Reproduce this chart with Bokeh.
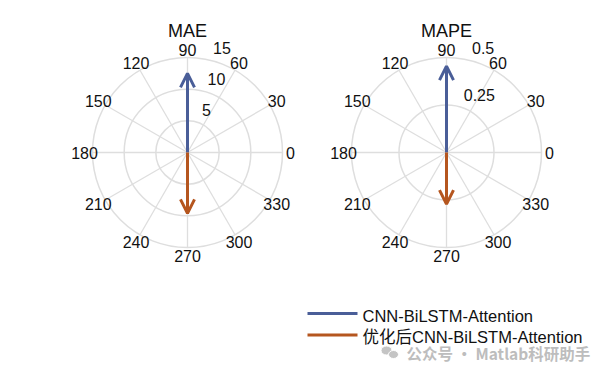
import numpy as np
from bokeh.plotting import figure
from bokeh.models import Range1d, Arrow, OpenHead
from bokeh.core.properties import value
from bokeh.embed import file_html
from bokeh.resources import INLINE

# ---- data ----
metrics = ["MAE", "MAPE"]
r_max = [15, 0.5]
r_ticks = [[5, 10, 15], [0.25, 0.5]]
r_tick_labels = [["5", "10", "15"], ["0.25", "0.5"]]
theta_ticks = [0, 30, 60, 90, 120, 150, 180, 210, 240, 270, 300, 330]
models = ["CNN-BiLSTM-Attention", "优化后CNN-BiLSTM-Attention"]
model_angles = [90, 270]
mae_values = [12.5, 9.6]
mape_values = [0.455, 0.272]
metric_values = [mae_values, mape_values]
colors = ["#4a5e98", "#b5561f"]
watermark = "公众号 · Matlab科研助手"

W, H = 612, 375
centers = [(187, 152), (446, 152)]
R = 95.0

p = figure(width=W, height=H, output_backend="svg", toolbar_location=None,
           x_range=Range1d(0, W), y_range=Range1d(H, 0), min_border=0)
p.axis.visible = False
p.grid.visible = False
p.outline_line_color = None
p.background_fill_color = "white"
p.border_fill_color = "white"

FONT = value("Liberation Sans, Noto Sans CJK SC")
grid_col = "#dedede"

def pol(cx, cy, r, th):
    t = np.deg2rad(th)
    return cx + r * np.cos(t), cy - r * np.sin(t)

for k, (cx, cy) in enumerate(centers):
    rm = r_max[k]
    # spokes
    xs, ys = [], []
    for th in theta_ticks:
        x1, y1 = pol(cx, cy, R, th)
        xs.append([cx, x1]); ys.append([cy, y1])
    p.multi_line(xs, ys, line_color=grid_col, line_width=1.3)
    # circles
    radii = [t / rm * R for t in r_ticks[k]]
    p.circle(x=[cx] * len(radii), y=[cy] * len(radii), radius=radii,
             fill_color=None, line_color=grid_col, line_width=1.5)
    # theta labels
    lx, ly = [], []
    for th in theta_ticks:
        a, b = pol(cx, cy, 103, th)
        lx.append(a); ly.append(b)
    p.text(x=lx, y=ly, text=[str(t) for t in theta_ticks], text_align="center",
           text_baseline="middle", text_font=FONT, text_font_size="16px", text_color="#111111")
    # r tick labels
    rx, ry = [], []
    for rr in radii:
        a, b = pol(cx, cy, rr, 80)
        rx.append(a + 9); ry.append(b - 5)
    p.text(x=rx, y=ry, text=r_tick_labels[k], text_align="left", text_baseline="bottom",
           text_font=FONT, text_font_size="16px", text_color="#111111")
    # title
    p.text(x=[cx], y=[cy - 122], text=[metrics[k]], text_align="center", text_baseline="middle",
           text_font=FONT, text_font_size="18px", text_color="#111111")
    # arrows
    for m in range(len(models)):
        v = metric_values[k][m]
        x1, y1 = pol(cx, cy, v / rm * R, model_angles[m])
        p.add_layout(Arrow(end=OpenHead(size=14, line_width=3, line_color=colors[m]),
                           x_start=cx, y_start=cy, x_end=x1, y_end=y1,
                           line_color=colors[m], line_width=3))

# legend
leg_y = [313, 334.5]
for m, name in enumerate(models):
    p.line([307, 357], [leg_y[m], leg_y[m]], line_color=colors[m], line_width=3)
    p.text(x=[362], y=[leg_y[m] + 2], text=[name], text_align="left", text_baseline="middle",
           text_font=FONT, text_font_size="16.5px", text_color="#111111")

# watermark
p.ellipse(x=[386, 393], y=[350, 354], width=[11, 10], height=[9, 8],
          fill_color="#c4c4c4", line_color="white", line_width=1)
p.text(x=[406], y=[352], text=[watermark], text_align="left", text_baseline="middle",
       text_font=value("Noto Sans CJK SC"), text_font_size="15.5px", text_color="#bdbdbd",
       text_font_style="bold")

open("out.html", "w").write(file_html(p, INLINE))
